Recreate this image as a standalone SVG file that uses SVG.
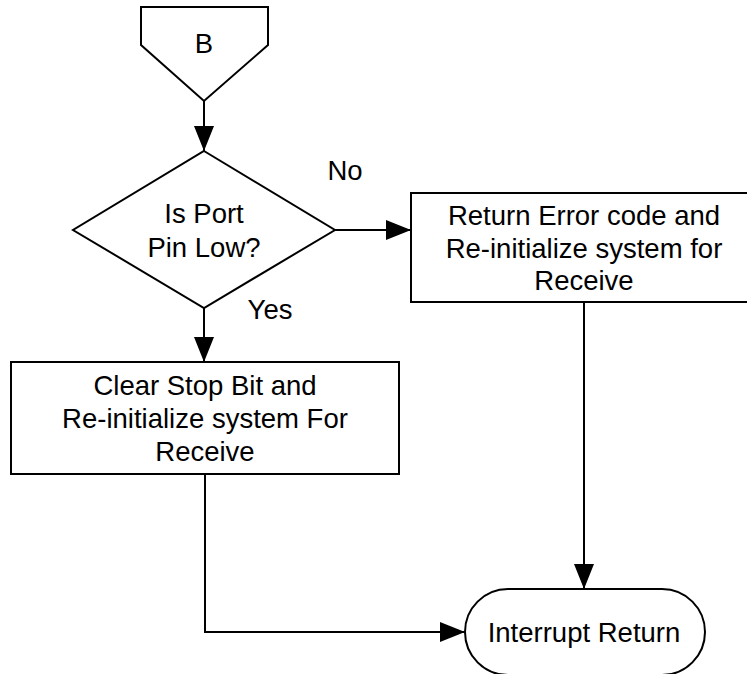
<svg xmlns="http://www.w3.org/2000/svg" width="747" height="674" viewBox="0 0 747 674">
<style>
.s{fill:#fff;stroke:#000;stroke-width:2}
.t{font-family:"Liberation Sans",Arial,sans-serif;font-size:27.5px;fill:#000;text-anchor:middle}
.c{fill:none;stroke:#000;stroke-width:2}
</style>
<defs>
<marker id="a" markerUnits="userSpaceOnUse" markerWidth="26" markerHeight="20" refX="25" refY="10" orient="auto">
<path d="M0,0 L25,10 L0,20 z" fill="#000"/>
</marker>
</defs>
<rect width="747" height="674" fill="#fff"/>
<g id="connectors">
<line class="c" x1="204" y1="101" x2="204" y2="151" marker-end="url(#a)"/>
<line class="c" x1="335" y1="230" x2="411" y2="230" marker-end="url(#a)"/>
<line class="c" x1="204" y1="308" x2="204" y2="362" marker-end="url(#a)"/>
<line class="c" x1="584" y1="302" x2="584" y2="589" marker-end="url(#a)"/>
<polyline class="c" points="205,474 205,632 465,632" marker-end="url(#a)"/>
</g>
<g id="labels">
<text class="t" x="345" y="180">No</text>
<text class="t" x="270" y="319">Yes</text>
</g>
<g id="B">
<polygon class="s" points="141,7 268,7 268,45 204,101 141,45"/>
<text class="t" x="204" y="53">B</text>
</g>
<g id="decision">
<polygon class="s" points="204,151 335,230 204,308 73,230"/>
<text class="t" x="204" y="223">Is Port</text>
<text class="t" x="204" y="257">Pin Low?</text>
</g>
<g id="returnError">
<rect class="s" x="411" y="193" width="346" height="109"/>
<text class="t" x="584" y="225">Return Error code and</text>
<text class="t" x="584" y="258">Re-initialize system for</text>
<text class="t" x="584" y="290">Receive</text>
</g>
<g id="clearStop">
<rect class="s" x="11" y="362" width="388" height="112"/>
<text class="t" x="205" y="395">Clear Stop Bit and</text>
<text class="t" x="205" y="428">Re-initialize system For</text>
<text class="t" x="205" y="461">Receive</text>
</g>
<g id="interruptReturn">
<rect class="s" x="465" y="589" width="240" height="86" rx="43" ry="43"/>
<text class="t" x="584" y="642">Interrupt Return</text>
</g>
</svg>
